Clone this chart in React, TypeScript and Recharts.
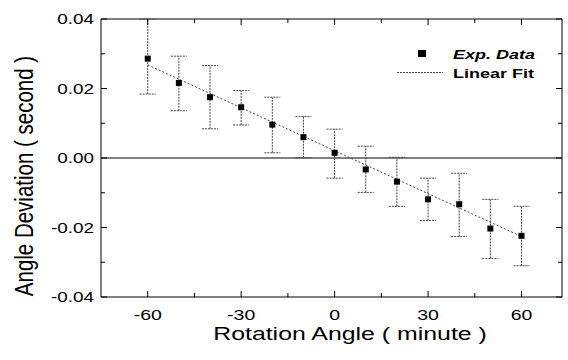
import { ComposedChart, Scatter, XAxis, YAxis, ErrorBar, ReferenceLine, Legend } from "recharts";

// rotation angle (minute) and measured angle deviation (second)
const ANGLE = [-60, -50, -40, -30, -20, -10, 0, 10, 20, 30, 40, 50, 60];
const DEVIATION = [0.0286, 0.0216, 0.0175, 0.0146, 0.0096, 0.006, 0.0015, -0.0033, -0.0068, -0.0119, -0.0133, -0.0203, -0.0224];
const ERR_DOWN = [0.0102, 0.008, 0.0091, 0.0051, 0.0081, 0.0059, 0.0073, 0.0066, 0.0071, 0.0061, 0.0093, 0.0086, 0.0086];
const ERR_UP = [0.0114, 0.0077, 0.0091, 0.0048, 0.0079, 0.0059, 0.0068, 0.0067, 0.007, 0.0061, 0.0089, 0.0084, 0.0085];

// linear fit end points
const FIT_X = [-60, 60];
const FIT_Y = [0.0268, -0.0226];

const X_TICKS = [-60, -45, -30, -15, 0, 15, 30, 45, 60];
const X_MAJOR = [-60, -30, 0, 30, 60];
const Y_TICKS = [-0.04, -0.03, -0.02, -0.01, 0, 0.01, 0.02, 0.03, 0.04];
const Y_MAJOR = [-0.04, -0.02, 0, 0.02, 0.04];

const W = 568;
const H = 360;
const MARGIN = { top: 19, right: 6, bottom: 8, left: 8 };
const FONT = "'Liberation Sans', Arial, Helvetica, sans-serif";

const expData = ANGLE.map((x, i) => ({ x, y: DEVIATION[i], err: [ERR_DOWN[i], ERR_UP[i]] }));
const fitData = FIT_X.map((x, i) => ({ x, y: FIT_Y[i] }));

function XTick({ x, y, payload }: any) {
  const v = payload.value;
  const major = X_MAJOR.includes(v);
  const len = major ? 6 : 4;
  return (
    <g>
      <line x1={x} y1={y} x2={x} y2={y - len} stroke="#000" />
      <line x1={x} y1={MARGIN.top} x2={x} y2={MARGIN.top + len} stroke="#000" />
      {major && (
        <text transform={`translate(${x},${y + 23}) scale(1.3,1)`} textAnchor="middle" fontSize={15} fontFamily={FONT} fill="#000">
          {v}
        </text>
      )}
    </g>
  );
}

function YTick({ x, y, payload }: any) {
  const v = payload.value;
  const major = Y_MAJOR.some((m) => Math.abs(m - v) < 1e-9);
  const len = major ? 6 : 4;
  const right = W - MARGIN.right;
  return (
    <g>
      <line x1={x} y1={y} x2={x + len} y2={y} stroke="#000" />
      <line x1={right} y1={y} x2={right - len} y2={y} stroke="#000" />
      {major && (
        <text transform={`translate(${x - 7},${y + 5}) scale(1.35,1)`} textAnchor="end" fontSize={14} fontFamily={FONT} fill="#000">
          {v.toFixed(2)}
        </text>
      )}
    </g>
  );
}

function XTitle() {
  return (
    <text transform="translate(350,340) scale(1.345,1)" textAnchor="middle" fontSize={18.5} fontFamily={FONT} fill="#000">
      Rotation Angle ( minute )
    </text>
  );
}

function YTitle() {
  return (
    <text transform="translate(33,176) rotate(-90) scale(1,1.3)" textAnchor="middle" fontSize={20.5} fontFamily={FONT} fill="#000">
      Angle Deviation ( second )
    </text>
  );
}

function Square({ cx, cy }: any) {
  return <rect x={cx - 3} y={cy - 3} width={6} height={6} fill="#000" />;
}

function NoDot() {
  return <g />;
}

function LegendBox() {
  return (
    <svg width={180} height={50} style={{ display: "block" }}>
      <rect x={38} y={12} width={8} height={7} fill="#000" />
      <text transform="translate(73,21) scale(1.5,1)" fontSize={12} fontWeight="bold" fontStyle="italic" fontFamily={FONT} fill="#000">
        Exp. Data
      </text>
      <line x1={17} y1={34.5} x2={63} y2={34.5} stroke="#444" strokeDasharray="2 1" />
      <text transform="translate(73,40) scale(1.5,1)" fontSize={12} fontWeight="bold" fontFamily={FONT} fill="#000">
        Linear Fit
      </text>
    </svg>
  );
}

export default function App() {
  return (
    <div style={{ position: "absolute", left: 0, top: 0, background: "#fff" }}>
      <ComposedChart width={W} height={H} margin={MARGIN}>
        <XAxis
          type="number"
          dataKey="x"
          domain={[-75, 73]}
          ticks={X_TICKS}
          interval={0}
          allowDataOverflow
          tickSize={0}
          tickMargin={0}
          tickLine={false}
          axisLine={{ stroke: "#000" }}
          tick={<XTick />}
          height={55}
          label={<XTitle />}
        />
        <YAxis
          type="number"
          domain={[-0.04, 0.04]}
          ticks={Y_TICKS}
          interval={0}
          allowDataOverflow
          tickSize={0}
          tickMargin={0}
          tickLine={false}
          axisLine={{ stroke: "#000" }}
          tick={<YTick />}
          width={93}
          label={<YTitle />}
        />
        <ReferenceLine y={0.04} stroke="#000" />
        <ReferenceLine x={73} stroke="#000" />
        <ReferenceLine y={0} stroke="#000" />
        <Legend layout="vertical" align="center" verticalAlign="middle" content={<LegendBox />} wrapperStyle={{ position: "absolute", left: 380, top: 38, width: 180, height: 50 }} />
        <Scatter
          data={fitData}
          dataKey="y"
          line={{ stroke: "#444", strokeWidth: 1, strokeDasharray: "2 2" }}
          lineType="joint"
          shape={<NoDot />}
          isAnimationActive={false}
          legendType="none"
        />
        <Scatter data={expData} dataKey="y" shape={<Square />} isAnimationActive={false}>
          <ErrorBar dataKey="err" direction="y" width={8} stroke="#444" strokeWidth={1} strokeDasharray="2 1" isAnimationActive={false} />
        </Scatter>
      </ComposedChart>
    </div>
  );
}
